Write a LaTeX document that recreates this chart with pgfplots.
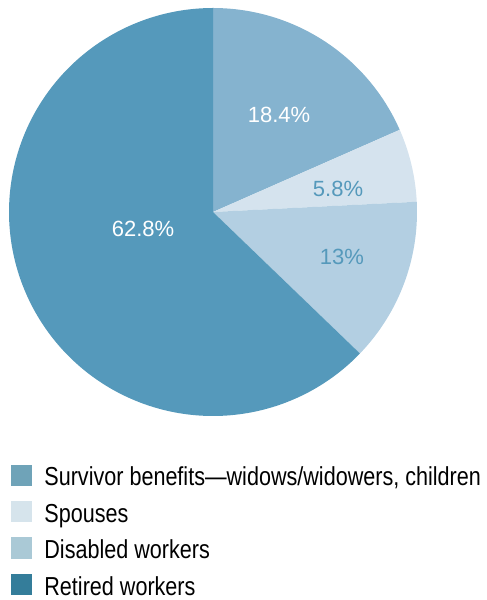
\documentclass[border=0pt]{standalone}
\usepackage{pgfplots}
\pgfplotsset{compat=1.18}
\usepackage{fontspec}
\setmainfont{Liberation Sans}
\newfontfamily\legfont[FakeStretch=0.83]{Liberation Sans}
\definecolor{pRet}{HTML}{5599BB}
\definecolor{pSur}{HTML}{85B3CF}
\definecolor{pSpo}{HTML}{D5E3EE}
\definecolor{pDis}{HTML}{B3CFE2}
\definecolor{lSur}{HTML}{6FA3B8}
\definecolor{lSpo}{HTML}{D6E4EC}
\definecolor{lDis}{HTML}{AAC9D6}
\definecolor{lRet}{HTML}{347D9A}
% data (percent)
\def\vSur{18.4}
\def\vSpo{5.8}
\def\vDis{13}
\def\vRet{62.8}
\pgfmathsetmacro\aA{90}
\pgfmathsetmacro\aB{\aA-3.6*\vSur}
\pgfmathsetmacro\aC{\aB-3.6*\vSpo}
\pgfmathsetmacro\aD{\aC-3.6*\vDis}
\pgfmathsetmacro\aE{\aD-3.6*\vRet}
\def\cx{213}
\def\cy{388}
\def\R{204}
\begin{document}
\begin{tikzpicture}
\begin{axis}[
  x=1bp, y=1bp,
  xmin=0, xmax=487, ymin=0, ymax=600,
  hide axis, clip=false,
  legend style={at={(axis cs:11,136)}, anchor=north west, draw=none, fill=none,
    inner sep=0pt, outer sep=0pt, row sep=11bp, column sep=11bp,
    font=\legfont\fontsize{26bp}{30bp}\selectfont,
    cells={anchor=base west, inner sep=0pt, text height=20bp, text depth=6bp}},
  legend cell align=left,
  legend image code/.code={\fill[#1] (0bp,-8bp) rectangle (20bp,12bp);},
]
\path (rel axis cs:0,0) rectangle (rel axis cs:1,1);
\addplot[fill=pSur, draw=none, samples=80, domain=\aB:\aA, forget plot]
  ({\cx+\R*cos(x)},{\cy+\R*sin(x)}) -- (axis cs:\cx,\cy) -- cycle;
\addplot[fill=pSpo, draw=none, samples=40, domain=\aC:\aB, forget plot]
  ({\cx+\R*cos(x)},{\cy+\R*sin(x)}) -- (axis cs:\cx,\cy) -- cycle;
\addplot[fill=pDis, draw=none, samples=60, domain=\aD:\aC, forget plot]
  ({\cx+\R*cos(x)},{\cy+\R*sin(x)}) -- (axis cs:\cx,\cy) -- cycle;
\addplot[fill=pRet, draw=none, samples=200, domain=\aE:\aD, forget plot]
  ({\cx+\R*cos(x)},{\cy+\R*sin(x)}) -- (axis cs:\cx,\cy) -- cycle;
\node[anchor=base, white, font=\fontsize{22bp}{26bp}\selectfont] at (axis cs:279,477) {18.4\%};
\node[anchor=base, pRet, font=\fontsize{22bp}{26bp}\selectfont] at (axis cs:338,403) {5.8\%};
\node[anchor=base, pRet, font=\fontsize{22bp}{26bp}\selectfont] at (axis cs:342,335) {13\%};
\node[anchor=base, white, font=\fontsize{22bp}{26bp}\selectfont] at (axis cs:143,363) {62.8\%};
\addlegendimage{lSur}
\addlegendentry{Survivor benefits—widows/widowers, children}
\addlegendimage{lSpo}
\addlegendentry{Spouses}
\addlegendimage{lDis}
\addlegendentry{Disabled workers}
\addlegendimage{lRet}
\addlegendentry{Retired workers}
\end{axis}
\end{tikzpicture}
\end{document}
